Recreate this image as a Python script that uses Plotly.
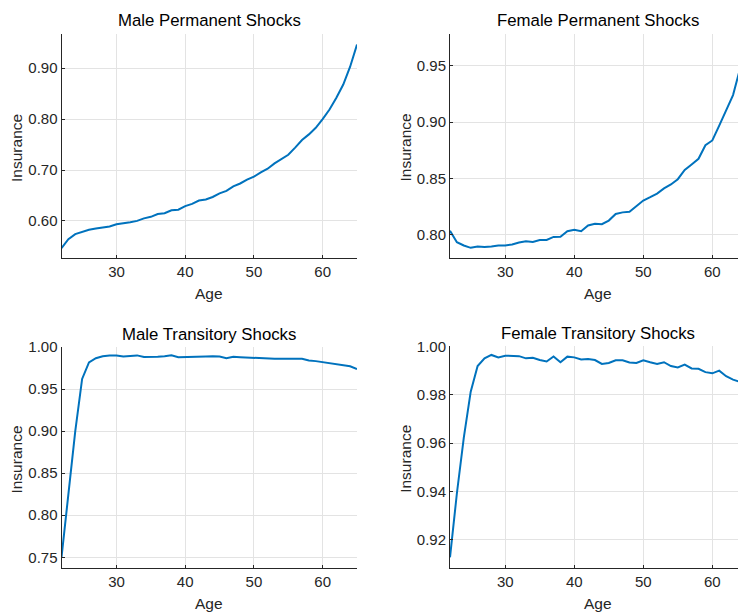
import plotly.graph_objects as go

ages = list(range(22, 66))

male_perm = [0.5465, 0.564, 0.574, 0.579, 0.5826, 0.585, 0.5865, 0.589, 0.5935, 0.595,
             0.5975, 0.600, 0.605, 0.608, 0.6135, 0.615, 0.621, 0.622, 0.629, 0.6335,
             0.640, 0.642, 0.647, 0.654, 0.659, 0.668, 0.6735, 0.681, 0.687, 0.6955,
             0.7025, 0.713, 0.722, 0.730, 0.744, 0.759, 0.770, 0.783, 0.800, 0.819,
             0.842, 0.868, 0.903, 0.9465]

female_perm = [0.8035, 0.7933, 0.7904, 0.7883, 0.7895, 0.789, 0.7895, 0.7904, 0.7904, 0.7912,
               0.793, 0.7942, 0.7936, 0.7953, 0.7953, 0.798, 0.7982, 0.803, 0.8044, 0.803,
               0.8082, 0.8096, 0.8093, 0.8125, 0.8184, 0.8198, 0.8204, 0.8254, 0.8303, 0.8333,
               0.8365, 0.8411, 0.8446, 0.8493, 0.8575, 0.8624, 0.8674, 0.8794, 0.8837, 0.8969,
               0.9097, 0.924, 0.947, 0.9695]

male_trans = [0.750, 0.8215, 0.8996, 0.962, 0.9816, 0.9867, 0.989, 0.990, 0.990, 0.9887,
              0.9895, 0.990, 0.988, 0.988, 0.9885, 0.989, 0.9902, 0.9879, 0.9879, 0.9883,
              0.9883, 0.9887, 0.989, 0.9887, 0.9867, 0.9883, 0.9879, 0.9875, 0.9871, 0.9859,
              0.9859, 0.9859, 0.9859, 0.9863, 0.9859, 0.9859, 0.984, 0.9832, 0.982, 0.9812,
              0.980, 0.9789, 0.977, 0.9738]

female_trans = [0.9128, 0.9393, 0.9623, 0.9813, 0.9919, 0.9951, 0.9965, 0.9955, 0.9962, 0.9962,
                0.996, 0.9951, 0.9953, 0.9944, 0.9938, 0.9959, 0.9935, 0.9958, 0.9955, 0.9946,
                0.9948, 0.9944, 0.9928, 0.9932, 0.9943, 0.9943, 0.9934, 0.9932, 0.9943, 0.9935,
                0.9928, 0.9935, 0.9919, 0.9913, 0.9925, 0.9909, 0.9908, 0.9894, 0.9889, 0.9900,
                0.9877, 0.9863, 0.9852, 0.9845]

titles = ["Male Permanent Shocks", "Female Permanent Shocks",
          "Male Transitory Shocks", "Female Transitory Shocks"]
x_label = "Age"
y_label = "Insurance"
x_ticks = [30, 40, 50, 60]
y_ticks = [[0.60, 0.70, 0.80, 0.90],
           [0.80, 0.85, 0.90, 0.95],
           [0.75, 0.80, 0.85, 0.90, 0.95, 1.00],
           [0.92, 0.94, 0.96, 0.98, 1.00]]

W, H = 738, 616
series = [male_perm, female_perm, male_trans, female_trans]
# pixel boxes in the picture: (left, right, top, bottom)
boxes = [(61.5, 357, 25, 253), (450, 738, 25, 253),
         (61.5, 357, 343, 567.5), (450, 738, 342.5, 567.5)]
x_ranges = [[22, 65], [22, 63.72], [22, 65], [22, 63.72]]
y_ranges = [[0.5265, 0.968], [0.779, 0.9786], [0.737, 1.0], [0.9083, 1.0]]

axcol = "#262626"
font = "Liberation Sans, Arial, Helvetica, sans-serif"


def px(x):
    return x / W


def py(y):
    return 1 - y / H


fig = go.Figure()
annotations = []
for i in range(4):
    xa = "x" if i == 0 else f"x{i+1}"
    ya = "y" if i == 0 else f"y{i+1}"
    fig.add_trace(go.Scatter(x=ages, y=series[i], mode="lines",
                             line=dict(color="#0072BD", width=2),
                             xaxis=xa, yaxis=ya, showlegend=False))
    l, r, t, b = boxes[i]
    xd = [max(0, px(l)), min(1, px(r))]
    yd = [max(0, py(b)), min(1, py(t))]
    common = dict(showline=True, linecolor=axcol, linewidth=1, mirror=False,
                  showgrid=True, gridcolor="#e3e3e3", gridwidth=1, zeroline=False,
                  ticks="inside", ticklen=3, tickcolor=axcol, tickwidth=1,
                  tickfont=dict(family=font, size=15, color=axcol))
    fig.layout[("xaxis" if i == 0 else f"xaxis{i+1}")] = dict(
        domain=xd, range=x_ranges[i], tickvals=x_ticks, anchor=ya, **common)
    fig.layout[("yaxis" if i == 0 else f"yaxis{i+1}")] = dict(
        domain=yd, range=y_ranges[i], tickvals=y_ticks[i], tickformat=".2f",
        anchor=xa, **common)
    cx = 598 if i in (1, 3) else 209
    annotations.append(dict(text=titles[i], x=px(cx), y=py(t - 13),
                            xref="paper", yref="paper", showarrow=False,
                            xanchor="center", yanchor="middle",
                            font=dict(family=font, size=16.8, color="#000000")))
    annotations.append(dict(text=x_label, x=px(cx), y=py(b + 36),
                            xref="paper", yref="paper", showarrow=False,
                            xanchor="center", yanchor="middle",
                            font=dict(family=font, size=15.5, color=axcol)))
    annotations.append(dict(text=y_label, x=px(l - 44.5), y=py((t + b) / 2 + 2),
                            xref="paper", yref="paper", showarrow=False, textangle=-90,
                            xanchor="center", yanchor="middle",
                            font=dict(family=font, size=15.5, color=axcol)))

fig.update_layout(width=W, height=H, margin=dict(l=0, r=0, t=0, b=0),
                  plot_bgcolor="white", paper_bgcolor="white",
                  annotations=annotations)
fig.write_html("out.html", config={"displayModeBar": False},
               post_script="document.body.style.margin='0';"
                           "document.body.style.overflow='hidden';")
